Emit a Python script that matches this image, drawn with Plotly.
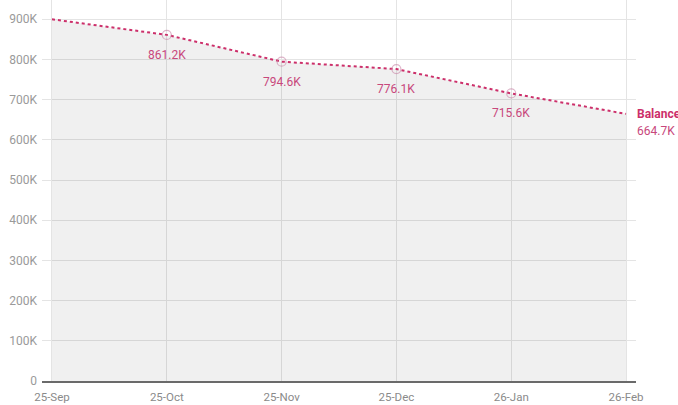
import plotly.graph_objects as go

# Monthly balance figures (thousands)
months = ["25-Sep", "25-Oct", "25-Nov", "25-Dec", "26-Jan", "26-Feb"]
balance_k = [900.0, 861.2, 794.6, 776.1, 715.6, 664.7]
labelled = [False, True, True, True, True, False]

y_tick_vals = [0, 100, 200, 300, 400, 500, 600, 700, 800, 900]
y_tick_text = ["0", "100K", "200K", "300K", "400K", "500K", "600K", "700K", "800K", "900K"]

PINK = "#cc2f6a"
LABEL_PINK = "#c8487c"
FONT = "Roboto"

x_idx = list(range(len(months)))

fig = go.Figure()

# Shaded area under the balance line
fig.add_trace(go.Scatter(
    x=x_idx, y=balance_k, mode="lines",
    line=dict(width=0), fill="tozeroy",
    fillcolor="rgba(0,0,0,0.06)", hoverinfo="skip", showlegend=False,
))

# Dotted balance line
fig.add_trace(go.Scatter(
    x=x_idx, y=balance_k, mode="lines",
    line=dict(color=PINK, width=2, dash="dot"),
    showlegend=False,
))

# Hollow markers on the intermediate months
mx = [x for x, f in zip(x_idx, labelled) if f]
my = [v for v, f in zip(balance_k, labelled) if f]
fig.add_trace(go.Scatter(
    x=mx, y=my, mode="markers",
    marker=dict(size=9, color="rgba(255,255,255,0)",
                line=dict(color="rgba(200,130,165,0.6)", width=1.2)),
    showlegend=False,
))

annotations = []
for x, v, f in zip(x_idx, balance_k, labelled):
    if f:
        annotations.append(dict(
            x=x, y=v, xref="x", yref="y", text=f"{v:.1f}K",
            showarrow=False, yshift=-20,
            font=dict(family=FONT, size=12, color=LABEL_PINK),
        ))

# End-of-line series label
annotations.append(dict(
    x=x_idx[-1], y=balance_k[-1], xref="x", yref="y",
    text="<b>Balance</b>", showarrow=False, xanchor="left",
    xshift=9, yshift=0,
    font=dict(family=FONT, size=12, color=PINK),
))
annotations.append(dict(
    x=x_idx[-1], y=balance_k[-1], xref="x", yref="y",
    text=f"{balance_k[-1]:.1f}K", showarrow=False, xanchor="left",
    xshift=9, yshift=-17,
    font=dict(family=FONT, size=12, color=LABEL_PINK),
))

fig.update_layout(
    width=678, height=405,
    margin=dict(l=42, r=42, t=0, b=24),
    paper_bgcolor="white", plot_bgcolor="white",
    font=dict(family=FONT, size=11, color="#8a8a8a"),
    annotations=annotations,
    showlegend=False,
)

fig.update_xaxes(
    range=[-0.087, len(months) - 1 + 0.087],
    tickvals=x_idx, ticktext=months,
    showgrid=True, gridcolor="#e4e4e4", gridwidth=1,
    showline=True, linecolor="#6a6a6a", linewidth=2,
    ticks="", tickfont=dict(family=FONT, size=11.5, color="#8a8a8a"),
    ticklabelstandoff=4,
    zeroline=False, fixedrange=True,
)

fig.update_yaxes(
    range=[0, 948],
    tickvals=y_tick_vals, ticktext=y_tick_text,
    showgrid=True, gridcolor="#e4e4e4", gridwidth=1,
    zeroline=False, showline=False, ticks="",
    tickfont=dict(family=FONT, size=12, color="#9a9a9a"),
    ticklabelstandoff=4, fixedrange=True,
)

fig.write_html("out.html")
